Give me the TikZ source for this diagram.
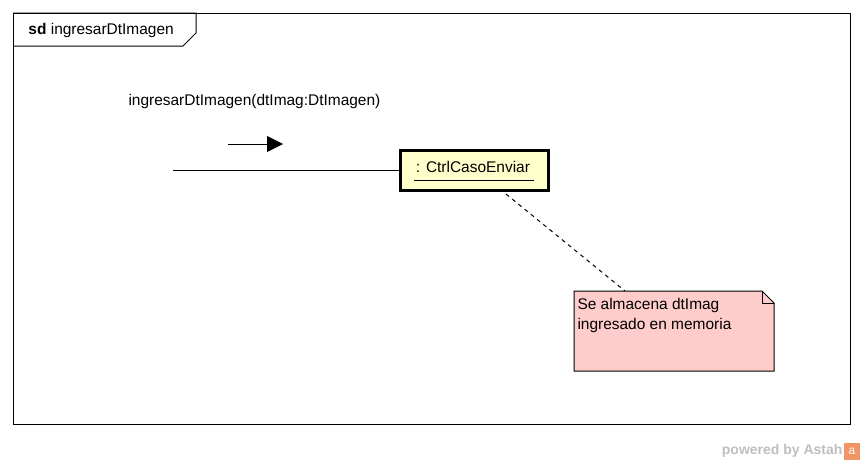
\documentclass[tikz,border=0pt]{standalone}
\usepackage{fontspec}
\setmainfont{Liberation Sans}
\usetikzlibrary{arrows.meta,positioning}

\definecolor{lifefill}{RGB}{255,255,204}
\definecolor{notefill}{RGB}{255,204,204}
\definecolor{astahgray}{RGB}{190,190,190}
\definecolor{astahorange}{RGB}{240,150,100}

\tikzset{every picture/.style={line width=0.75pt}}
\tikzset{
  lifebox/.style={draw,line width=2.25pt,fill=lifefill,minimum width=111pt,minimum height=30pt,inner sep=0pt},
  umltext/.style={inner sep=0.75pt,font=\fontsize{11.6}{15}\selectfont},
  notelink/.style={dash pattern=on 3pt off 3pt}
}

\begin{document}
\begin{tikzpicture}[x=0.75pt,y=0.75pt,yscale=-1,xscale=1]
\useasboundingbox (0,0) rectangle (864,464);

%Frame
\draw (13,13) rectangle (850,424);
%Frame tab
\draw (13,13) -- (196,13) -- (196,33) -- (183,46) -- (13,46);
% Text Node
\node (title) [umltext,anchor=west] at (27,31) {\textbf{sd} ingresarDtImagen};

%Lifeline object
\node (ctrl) [lifebox] at (474,170) {};
\node (ctrltext) [umltext] at (473,167) {: CtrlCasoEnviar};
\draw (414,180) -- (534,180);

%Message line
\coordinate (msgstart) at (173,170);
\draw (msgstart) -- (ctrl.west);
%Message arrow
\coordinate (arrstart) at (228,144);
\coordinate (arrend) at (283,144);
\draw [-{Triangle[length=12pt,width=12pt]}] (arrstart) -- (arrend);
% Text Node
\node (msglabel) [umltext,anchor=west] at (127,102) {ingresarDtImagen(dtImag:DtImagen)};

%Note
\draw [fill=notefill] (574,291) -- (762,291) -- (774,303) -- (774,371) -- (574,371) -- cycle;
\draw (762,291) -- (762,303) -- (774,303);
\coordinate (note) at (625,291);
\node (notetext) [umltext,anchor=north west,align=left] at (576,297) {Se almacena dtImag\\ingresado en memoria};
%Note link
\draw [notelink] (506,194) -- (note);

%Watermark
\node (astah) [inner sep=0pt,anchor=east,text=astahgray,font=\fontsize{10.5}{12}\selectfont\bfseries] at (843,451) {powered by Astah};
\fill [astahorange] (844,443) rectangle (860,460);
\node (astahicon) [inner sep=0pt,text=white,font=\fontsize{9}{10}\selectfont] at (852,451.5) {a};

\end{tikzpicture}
\end{document}
